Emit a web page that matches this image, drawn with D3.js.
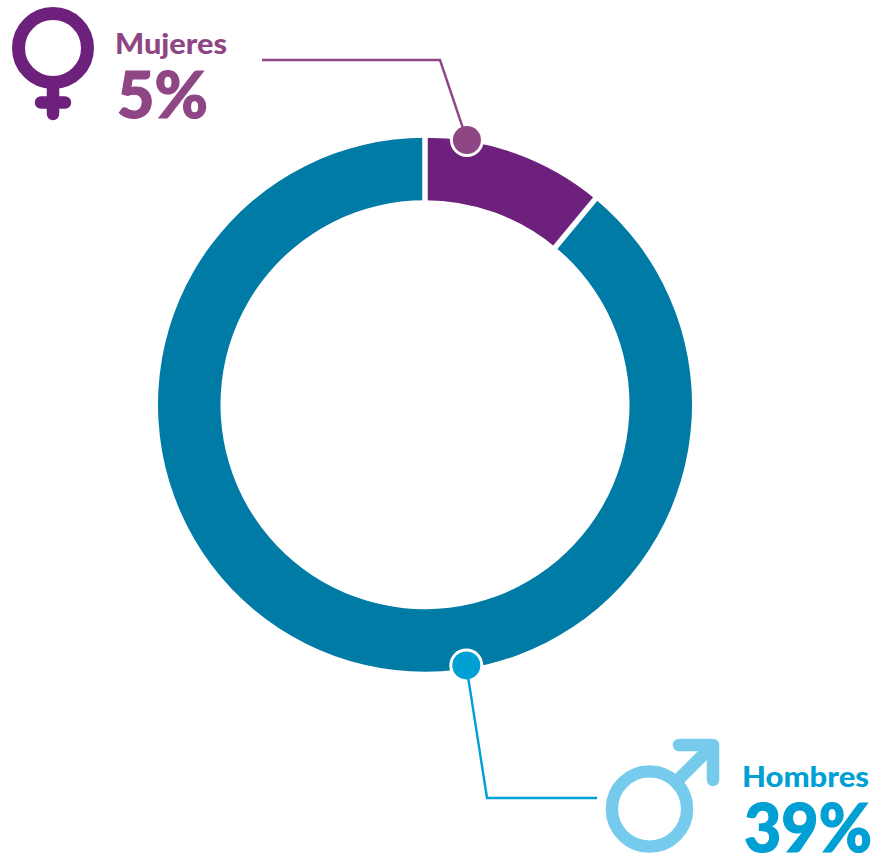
<!DOCTYPE html>
<html><head><meta charset="utf-8">
<script src="https://cdn.jsdelivr.net/npm/d3@7"></script>
<style>html,body{margin:0;padding:0;background:#fff}svg{display:block}text{font-family:Lato,sans-serif}</style>
</head><body>
<script>
const categories = ["Mujeres", "Hombres"];
const sliceShares = [11, 89];
const labelValues = ["5%", "39%"];
const sliceColors = ["#6e217c", "#007ba5"];
const textColors = ["#8f4684", "#009fd4"];
const iconColors = ["#6e217c", "#76caec"];
const dotAngles = [9, 171];

const W = 876, H = 857, cx = 425, cy = 404.7, rOuter = 267, rInner = 204.5;
const svg = d3.select("body").append("svg").attr("width", W).attr("height", H);
const pie = d3.pie().sort(null).value(d => d);
const arc = d3.arc().innerRadius(rInner).outerRadius(rOuter);
const ring = svg.append("g").attr("transform", `translate(${cx},${cy})`);
ring.selectAll("path").data(pie(sliceShares)).join("path")
  .attr("d", arc).attr("fill", (d, i) => sliceColors[i]);
ring.selectAll("line.sep").data(pie(sliceShares)).join("line").attr("class", "sep")
  .each(function (d) {
    const a = d3.pointRadial(d.startAngle, rInner - 3), b = d3.pointRadial(d.startAngle, rOuter + 3);
    d3.select(this).attr("x1", a[0]).attr("y1", a[1]).attr("x2", b[0]).attr("y2", b[1]);
  }).attr("stroke", "#fff").attr("stroke-width", 5.5);

const dotR = [268, 264];
const dots = dotAngles.map((a, i) => {
  const p = d3.pointRadial(a * Math.PI / 180, dotR[i]);
  return [cx + p[0], cy + p[1]];
});
const line = d3.line();
const leaders = [
  [[262, 60], [440, 60], dots[0]],
  [dots[1], [487, 798], [597, 798]]
];
svg.selectAll("circle.halo").data(dots).join("circle").attr("class", "halo")
  .attr("cx", d => d[0]).attr("cy", d => d[1]).attr("r", 17).attr("fill", "#fff");
svg.selectAll("path.leader").data(leaders).join("path").attr("class", "leader")
  .attr("d", line).attr("fill", "none").attr("stroke-width", 2.4)
  .attr("stroke", (d, i) => textColors[i]);
svg.selectAll("circle.dot").data(dots).join("circle").attr("class", "dot")
  .attr("cx", d => d[0]).attr("cy", d => d[1]).attr("r", 14)
  .attr("fill", (d, i) => textColors[i]);

const f = svg.append("g").attr("fill", "none").attr("stroke", iconColors[0]).attr("stroke-linecap", "round");
f.append("circle").attr("cx", 53).attr("cy", 48).attr("r", 34.5).attr("stroke-width", 13);
f.append("path").attr("d", "M53,84V114M41,102.5H65").attr("stroke-width", 12.5);

const m = svg.append("g").attr("fill", "none").attr("stroke", iconColors[1]).attr("stroke-linecap", "round").attr("stroke-linejoin", "round");
m.append("circle").attr("cx", 649.5).attr("cy", 809).attr("r", 37.6).attr("stroke-width", 12.4);
m.append("path").attr("d", "M679,745H713V780").attr("stroke-width", 12.5);
m.append("path").attr("d", "M713,745L675,783").attr("stroke-width", 12.5).attr("stroke-linecap", "butt");

const nameX = [115, 742], nameY = [54, 787], valX = [117, 744], valY = [118, 852];
const nameSize = [28.5, 27.5], valSize = [65, 67], nameLen = [112, 127], valLen = [91, 128];
svg.selectAll("text.name").data(categories).join("text").attr("class", "name")
  .attr("x", (d, i) => nameX[i]).attr("y", (d, i) => nameY[i])
  .attr("font-weight", 900).attr("textLength", (d, i) => nameLen[i]).attr("lengthAdjust", "spacingAndGlyphs")
  .attr("font-size", (d, i) => nameSize[i]).attr("fill", (d, i) => textColors[i]).text(d => d);
svg.selectAll("text.val").data(labelValues).join("text").attr("class", "val")
  .attr("x", (d, i) => valX[i]).attr("y", (d, i) => valY[i])
  .attr("font-weight", 900).attr("textLength", (d, i) => valLen[i]).attr("lengthAdjust", "spacingAndGlyphs")
  .attr("font-size", (d, i) => valSize[i]).attr("fill", (d, i) => textColors[i])
  .attr("stroke", (d, i) => textColors[i]).attr("stroke-width", 1.2).text(d => d);
</script>
</body></html>
